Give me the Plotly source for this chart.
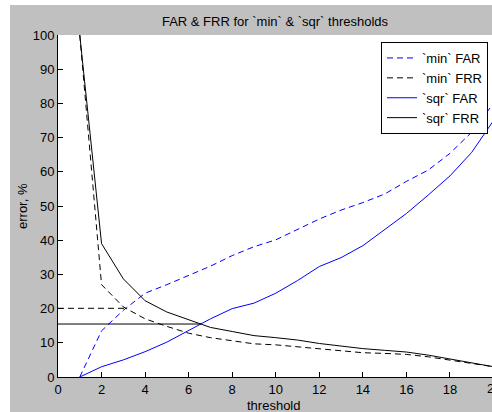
import numpy as np
import plotly.graph_objects as go

# Error rates (%) per threshold value
thresholds = list(range(1, 21))
min_far = [0.0, 13.5, 19.5, 24.5, 27.0, 29.6, 32.4, 35.5, 38.1, 40.1,
           43.2, 46.2, 48.8, 51.0, 53.5, 57.2, 60.5, 65.4, 71.6, 80.0]
min_frr = [100.0, 27.0, 20.5, 17.0, 14.8, 12.8, 11.5, 10.6, 9.7, 9.4,
           8.8, 8.1, 7.6, 7.1, 6.9, 6.6, 5.9, 5.0, 4.0, 3.0]
sqr_far = [0.0, 3.0, 5.0, 7.4, 10.2, 13.5, 17.0, 20.0, 21.6, 24.5,
           28.2, 32.3, 34.9, 38.4, 43.2, 47.8, 53.2, 58.8, 65.7, 75.0]
sqr_frr = [100.0, 39.0, 28.7, 22.3, 19.0, 16.8, 14.5, 13.3, 12.1, 11.5,
           10.8, 9.8, 9.0, 8.3, 7.8, 7.3, 6.4, 5.3, 4.2, 3.0]

x_ticks = list(range(0, 21, 2))
y_ticks = list(range(0, 101, 10))

title_text = "FAR & FRR for `min` & `sqr` thresholds"
x_title = "threshold"
y_title = "error, %"
names = ["`min` FAR", "`min` FRR", "`sqr` FAR", "`sqr` FRR"]


def crossing(x, a, b):
    """Linear-interpolated point where curve a meets curve b."""
    x = np.asarray(x, float)
    d = np.asarray(a, float) - np.asarray(b, float)
    i = int(np.where(np.sign(d[:-1]) != np.sign(d[1:]))[0][0])
    t = d[i] / (d[i] - d[i + 1])
    xc = x[i] + t * (x[i + 1] - x[i])
    yc = a[i] + t * (a[i + 1] - a[i])
    return xc, yc


eer_min = crossing(thresholds, min_far, min_frr)
eer_sqr = crossing(thresholds, sqr_far, sqr_frr)

# Figure geometry
W, H = 492, 412
ML, MR, MT, MB = 58, 0, 35, 35
PW, PH = W - ML - MR, H - MT - MB
X_MAX = 19.93


def px(xpix):
    return (xpix - ML) / PW


def py(ypix):
    return (H - MB - ypix) / PH


FONT = "Liberation Sans, Arial, sans-serif"
BLUE = "rgb(0,0,255)"
BLACK = "rgb(0,0,0)"
DASH = "6px,4px"

fig = go.Figure()
fig.add_trace(go.Scatter(x=thresholds, y=min_far, mode="lines", name=names[0],
                         line=dict(color=BLUE, width=1, dash=DASH)))
fig.add_trace(go.Scatter(x=thresholds, y=min_frr, mode="lines", name=names[1],
                         line=dict(color=BLACK, width=1, dash=DASH)))
fig.add_trace(go.Scatter(x=thresholds, y=sqr_far, mode="lines", name=names[2],
                         line=dict(color=BLUE, width=1)))
fig.add_trace(go.Scatter(x=thresholds, y=sqr_frr, mode="lines", name=names[3],
                         line=dict(color=BLACK, width=1)))

# Equal-error-rate guide lines from the y axis to each crossing
fig.add_trace(go.Scatter(x=[0, eer_min[0]], y=[eer_min[1], eer_min[1]], mode="lines",
                         showlegend=False, hoverinfo="skip",
                         line=dict(color=BLACK, width=1, dash=DASH)))
fig.add_trace(go.Scatter(x=[0, eer_sqr[0]], y=[eer_sqr[1], eer_sqr[1]], mode="lines",
                         showlegend=False, hoverinfo="skip",
                         line=dict(color=BLACK, width=1)))

axis_common = dict(
    showline=True, linecolor=BLACK, linewidth=1, mirror=False,
    ticks="inside", ticklen=5, tickwidth=1, tickcolor=BLACK,
    showgrid=False, zeroline=False,
    tickfont=dict(family=FONT, size=13, color=BLACK),
)

fig.update_layout(
    width=W, height=H,
    margin=dict(l=ML, r=MR, t=MT, b=MB, pad=0),
    paper_bgcolor="#c0c0c0",
    plot_bgcolor="white",
    font=dict(family=FONT, size=13, color=BLACK),
    title=dict(text=title_text, x=0.5, xref="paper", xanchor="center",
               y=1 - 21 / H, yref="container", yanchor="middle",
               font=dict(family=FONT, size=13, color=BLACK)),
    xaxis=dict(range=[0, X_MAX], tickvals=x_ticks, **axis_common),
    yaxis=dict(range=[0, 100], tickvals=y_ticks, **axis_common),
    showlegend=True,
    legend=dict(
        x=px(488), y=py(42), xanchor="right", yanchor="top",
        bgcolor="white", bordercolor=BLACK, borderwidth=1,
        font=dict(family=FONT, size=13, color=BLACK),
        tracegroupgap=0, itemwidth=30,
    ),
    annotations=[
        dict(text=x_title, xref="paper", yref="paper", x=px(273), y=py(405),
             xanchor="center", yanchor="middle", showarrow=False,
             font=dict(family=FONT, size=13, color=BLACK)),
        dict(text=y_title, xref="paper", yref="paper", x=px(22), y=py(206),
             xanchor="center", yanchor="middle", showarrow=False, textangle=-90,
             font=dict(family=FONT, size=13, color=BLACK)),
        # last x tick label sits just past the visible edge
        dict(text="20", xref="paper", yref="paper", x=20 / X_MAX, y=py(388),
             xanchor="center", yanchor="middle", showarrow=False,
             font=dict(family=FONT, size=13, color=BLACK)),
    ],
    shapes=[
        dict(type="rect", xref="paper", yref="paper", x0=px(0), x1=px(10),
             y0=py(H), y1=py(0), fillcolor="white", line_width=0, layer="above"),
        dict(type="rect", xref="paper", yref="paper", x0=px(0), x1=px(W),
             y0=py(5), y1=py(0), fillcolor="white", line_width=0, layer="above"),
    ],
)

fig.write_html("out.html")
